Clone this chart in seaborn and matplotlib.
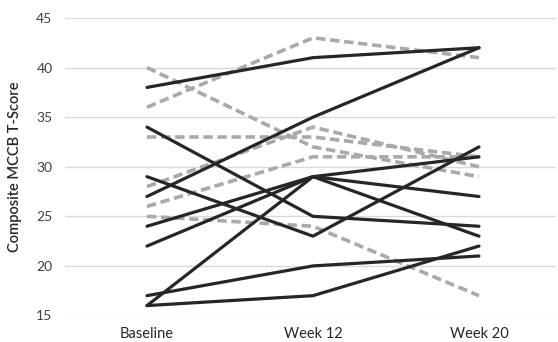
import matplotlib
matplotlib.use("Agg")
import matplotlib.pyplot as plt
import seaborn as sns
import pandas as pd

visits = ["Baseline", "Week 12", "Week 20"]

# Solid black lines (one per subject): Baseline, Week 12, Week 20
black_subjects = [
    [38, 41, 42],
    [27, 35, 42],
    [34, 25, 24],
    [29, 23, 32],
    [24, 29, 31],
    [22, 29, 27],
    [17, 20, 21],
    [16, 17, 22],
    [16, 29, 23],
]

# Dashed gray lines (one per subject)
gray_subjects = [
    [36, 43, 41],
    [40, 32, 29],
    [33, 33, 31],
    [28, 34, 30],
    [26, 31, 31],
    [25, 24, 17],
]

y_ticks = [15, 20, 25, 30, 35, 40, 45]
y_label = "Composite MCCB T-Score"


def to_long(subjects, group, offset):
    rows = []
    for i, vals in enumerate(subjects):
        for v, s in zip(visits, vals):
            rows.append({"subject": offset + i, "visit": v, "score": s, "group": group})
    return pd.DataFrame(rows)


df_black = to_long(black_subjects, "solid", 0)
df_gray = to_long(gray_subjects, "dashed", 100)

sns.set_style("white")
plt.rcParams["font.family"] = ["Lato", "DejaVu Sans"]

fig = plt.figure(figsize=(5.58, 3.42), dpi=100)
ax = fig.add_axes([65 / 558, (342 - 315.5) / 342, (556 - 65) / 558, (315.5 - 18) / 342])

sns.lineplot(data=df_gray, x="visit", y="score", units="subject", estimator=None,
             color="#a9a9a9", linewidth=2.6, ax=ax, legend=False, sort=False,
             dashes=False)
for ln in ax.get_lines():
    ln.set_dashes((2.6, 1.3))
sns.lineplot(data=df_black, x="visit", y="score", units="subject", estimator=None,
             color="#262626", linewidth=2.3, ax=ax, legend=False, sort=False)

ax.set_xlim(-0.494, 2.464)
ax.set_ylim(15, 45)
ax.set_yticks(y_ticks)
ax.yaxis.grid(True, color="#d9d9d9", linewidth=1.0)
ax.set_axisbelow(True)
for sp in ax.spines.values():
    sp.set_visible(False)
ax.tick_params(axis="y", length=0, pad=9, labelsize=10, labelcolor="#404040")
ax.tick_params(axis="x", length=0, pad=8.5, labelsize=10.5, labelcolor="#262626")
ax.set_xlabel("")
ax.set_ylabel(y_label, fontsize=10.5, color="#262626", fontweight="semibold", labelpad=10)

fig.savefig("out.png", dpi=100)
